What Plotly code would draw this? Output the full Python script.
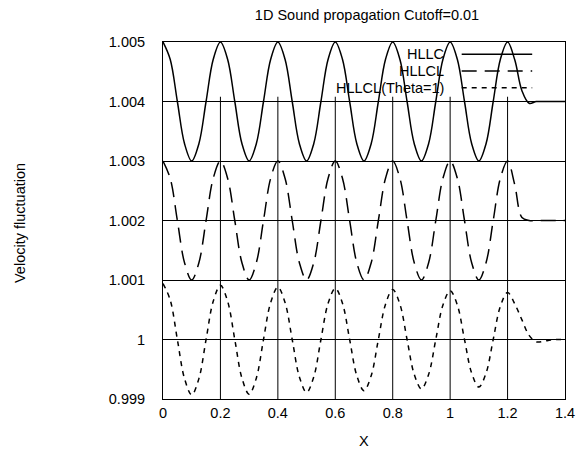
import plotly.graph_objects as go

# ---- data ----
x = [0.0, 0.025, 0.05, 0.075, 0.1, 0.125, 0.15, 0.175,
     0.2, 0.225, 0.25, 0.275, 0.3, 0.325, 0.35, 0.375,
     0.4, 0.425, 0.45, 0.475, 0.5, 0.525, 0.55, 0.575,
     0.6, 0.625, 0.65, 0.675, 0.7, 0.725, 0.75, 0.775,
     0.8, 0.825, 0.85, 0.875, 0.9, 0.925, 0.95, 0.975,
     1.0, 1.025, 1.05, 1.075, 1.1, 1.125, 1.15, 1.175,
     1.2, 1.225, 1.25, 1.275, 1.3, 1.325, 1.35, 1.375, 1.4]

hllc = [1.005, 1.00471, 1.004, 1.00329, 1.003, 1.00329, 1.004, 1.00471,
        1.005, 1.00471, 1.004, 1.00329, 1.003, 1.00329, 1.004, 1.00471,
        1.005, 1.00471, 1.004, 1.00329, 1.003, 1.00329, 1.004, 1.00471,
        1.005, 1.00471, 1.004, 1.00329, 1.003, 1.00329, 1.004, 1.00471,
        1.005, 1.00471, 1.004, 1.00329, 1.003, 1.00329, 1.004, 1.00471,
        1.005, 1.00471, 1.004, 1.00329, 1.003, 1.00329, 1.004, 1.00471,
        1.005, 1.0047, 1.00418, 1.00397, 1.004, 1.004, 1.004, 1.004, 1.004]

hllcl = [1.003, 1.00271, 1.002, 1.00129, 1.001, 1.00129, 1.002, 1.00271,
         1.003, 1.00271, 1.002, 1.00129, 1.001, 1.00129, 1.002, 1.00271,
         1.003, 1.00271, 1.002, 1.00129, 1.001, 1.00129, 1.002, 1.00271,
         1.003, 1.00271, 1.002, 1.00129, 1.001, 1.00129, 1.002, 1.00271,
         1.003, 1.00271, 1.002, 1.00129, 1.001, 1.00129, 1.002, 1.00271,
         1.003, 1.00271, 1.002, 1.00129, 1.001, 1.00129, 1.002, 1.00271,
         1.003, 1.0026, 1.00205, 1.002, 1.002, 1.002, 1.002, 1.002, 1.002]

hllcl_theta = [1.00094, 1.000665, 1.0, 0.999342, 0.99907, 0.999342, 1.0, 1.000643,
               1.00091, 1.000643, 1.0, 0.99935, 0.99908, 0.99935, 1.0, 1.000622,
               1.00088, 1.000622, 1.0, 0.999371, 0.99911, 0.999371, 1.0, 1.000608,
               1.00086, 1.000608, 1.0, 0.999392, 0.99914, 0.999392, 1.0, 1.000594,
               1.00084, 1.000594, 1.0, 0.999413, 0.99917, 0.999413, 1.0, 1.00058,
               1.00082, 1.00058, 1.0, 0.999434, 0.9992, 0.999434, 1.0, 1.000559,
               1.00079, 1.0006, 1.00033, 1.00007, 0.99996, 0.99997, 0.99999, 1.0, 1.0]

series_names = ["HLLC", "HLLCL", "HLLCL(Theta=1)"]
series_values = [hllc, hllcl, hllcl_theta]
series_dash = ["solid", "15px,8px", "5px,5px"]

x_ticks = [0, 0.2, 0.4, 0.6, 0.8, 1.0, 1.2, 1.4]
x_tick_labels = ["0", "0.2", "0.4", "0.6", "0.8", "1", "1.2", "1.4"]
y_ticks = [0.999, 1.0, 1.001, 1.002, 1.003, 1.004, 1.005]
y_tick_labels = ["0.999", "1", "1.001", "1.002", "1.003", "1.004", "1.005"]

title_text = "1D Sound propagation Cutoff=0.01"
x_label = "X"
y_label = "Velocity fluctuation"

FONT = "Liberation Sans, Arial, sans-serif"
FS = 14.5

fig = go.Figure()
for name, vals, dash in zip(series_names, series_values, series_dash):
    fig.add_trace(go.Scatter(x=x, y=vals, mode="lines", name=name,
                             line=dict(color="black", width=1.5, dash=dash,
                                       shape="spline", smoothing=1.0),
                             showlegend=False))

# vertical grid lines (stop below the key, as in the original)
for xv in x_ticks[1:-1]:
    fig.add_shape(type="line", xref="x", yref="y", x0=xv, x1=xv,
                  y0=y_ticks[0], y1=1.00408, layer="below",
                  line=dict(color="black", width=1))

# key: text on the left, line sample on the right
key_y = [0.9655, 0.9188, 0.8720]
for name, dash, ky in zip(series_names, series_dash, key_y):
    fig.add_annotation(xref="paper", yref="paper", x=0.6991, y=ky,
                       text=name, showarrow=False, xanchor="right",
                       yanchor="middle", borderpad=0, borderwidth=0,
                       font=dict(family=FONT, size=FS, color="black"))
    fig.add_shape(type="line", xref="paper", yref="paper", x0=0.743, x1=0.9184,
                  y0=ky, y1=ky, line=dict(color="black", width=1.5, dash=dash))

fig.add_annotation(xref="paper", yref="paper", x=-0.3557, y=0.493, text=y_label,
                   textangle=-90, showarrow=False, xanchor="center", yanchor="middle",
                   font=dict(family=FONT, size=FS, color="black"))
fig.add_annotation(xref="paper", yref="paper", x=0.5, y=-0.1176, text=x_label,
                   showarrow=False, xanchor="center", yanchor="middle",
                   font=dict(family=FONT, size=FS, color="black"))

fig.update_layout(
    width=587, height=452,
    margin=dict(l=163, r=13, t=42, b=53),
    paper_bgcolor="white", plot_bgcolor="white",
    font=dict(family=FONT, size=FS, color="black"),
    title=dict(text=title_text, x=367 / 587, xanchor="center", xref="container",
               y=1 - 15 / 452, yanchor="middle", yref="container",
               font=dict(family=FONT, size=FS, color="black")),
    xaxis=dict(range=[0, 1.4], tickvals=x_ticks, ticktext=x_tick_labels,
               showgrid=False, zeroline=False, showline=True, mirror=True,
               linecolor="black", linewidth=1, ticks="", ticklabelstandoff=1,
               tickfont=dict(family=FONT, size=FS, color="black")),
    yaxis=dict(range=[0.999, 1.005], tickvals=y_ticks, ticktext=y_tick_labels,
               showgrid=True, gridcolor="black", gridwidth=1, zeroline=False,
               showline=True, mirror=True, linecolor="black", linewidth=1,
               ticks="", ticklabelstandoff=14,
               tickfont=dict(family=FONT, size=FS, color="black")),
)

fig.write_html("out.html", config={"displayModeBar": False},
               post_script="document.body.style.margin='0px';document.body.style.padding='0px';")
